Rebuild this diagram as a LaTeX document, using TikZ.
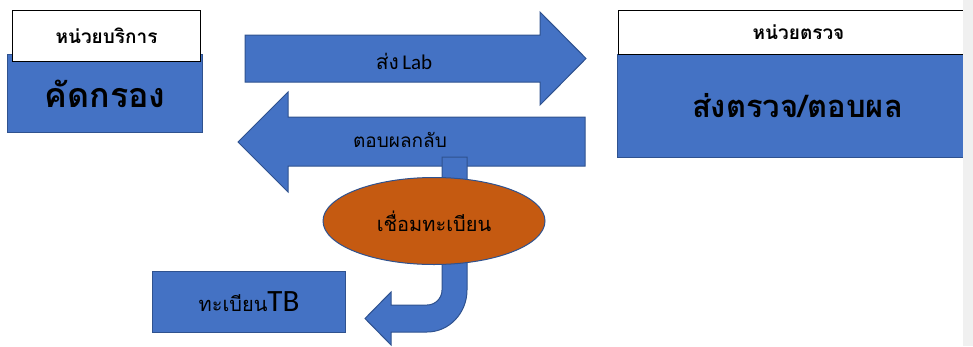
\documentclass[tikz,border=0pt]{standalone}
\usepackage{fontspec}
\setmainfont{Carlito}
\newfontfamily\thai[Script=Thai]{Loma}
\usetikzlibrary{positioning,shapes.geometric}
\definecolor{boxBlue}{HTML}{4472C4}
\definecolor{edgeBlue}{HTML}{2F528F}
\definecolor{linkOrange}{HTML}{C55A11}
\definecolor{barGray}{HTML}{F0F0F0}

\begin{document}
\begin{tikzpicture}[x=1pt, y=-1pt, line width=1pt,
    bluebox/.style={fill=boxBlue, draw=edgeBlue, inner sep=0pt},
    labelbox/.style={fill=white, draw=black, inner sep=0pt, font=\thai\bfseries\fontsize{19}{22}\selectfont},
    blockarrow/.style={fill=boxBlue, draw=edgeBlue}]
    \useasboundingbox (0,0) rectangle (973,346);

    % left unit
    \node[bluebox, anchor=north west, minimum width=195pt, minimum height=78pt,
          font=\thai\bfseries\fontsize{34}{40}\selectfont] (screenBox) at (7,54) {คัดกรอง};
    \node[labelbox, anchor=north west, minimum width=188pt, minimum height=51pt] (serviceLabel) at (12,10) {หน่วยบริการ};

    % right unit
    \node[bluebox, anchor=north west, minimum width=360pt, minimum height=103pt,
          font=\thai\bfseries\fontsize{31}{36}\selectfont] (labBox) at (617,54) {ส่งตรวจ/ตอบผล};
    \node[labelbox, anchor=north west, minimum width=360pt, minimum height=44pt] (labLabel) at (618,10) {หน่วยตรวจ};

    % block arrows
    \draw[blockarrow] (245,35) -- (540,35) -- (540,12) -- (586,58.5) -- (540,105) -- (540,82) -- (245,82) -- cycle;
    \node[font=\fontsize{21}{24}\selectfont] (sendText) at (404,61) {{\thai ส่ง}\,Lab};
    \draw[blockarrow] (585,117) -- (288,117) -- (288,92) -- (238,142) -- (288,192) -- (288,166) -- (585,166) -- cycle;
    \node[font=\thai\fontsize{19}{22}\selectfont] (replyText) at (400,140) {ตอบผลกลับ};

    \draw[blockarrow] (442,157) -- (442,290) arc[start angle=0, end angle=90, x radius=15, y radius=15]
        -- (391,305) -- (391,292) -- (365,318.5) -- (391,345) -- (391,332) -- (427,332)
        arc[start angle=90, end angle=0, x radius=40, y radius=42] -- (467,157) -- cycle;

    \node[ellipse, fill=linkOrange, draw=edgeBlue, minimum width=222pt, minimum height=87pt, inner sep=0pt,
          font=\thai\fontsize{20}{24}\selectfont] (linkReg) at (434,221) {เชื่อมทะเบียน};

    \node[bluebox, anchor=north west, minimum width=193pt, minimum height=61pt] (tbReg) at (152,271)
        {\thai\fontsize{20}{24}\selectfont ทะเบียน\normalfont\fontsize{31}{34}\selectfont TB};

    % scroll bar strip
    \fill[barGray] (963,0) rectangle (973,346);
\end{tikzpicture}
\end{document}
